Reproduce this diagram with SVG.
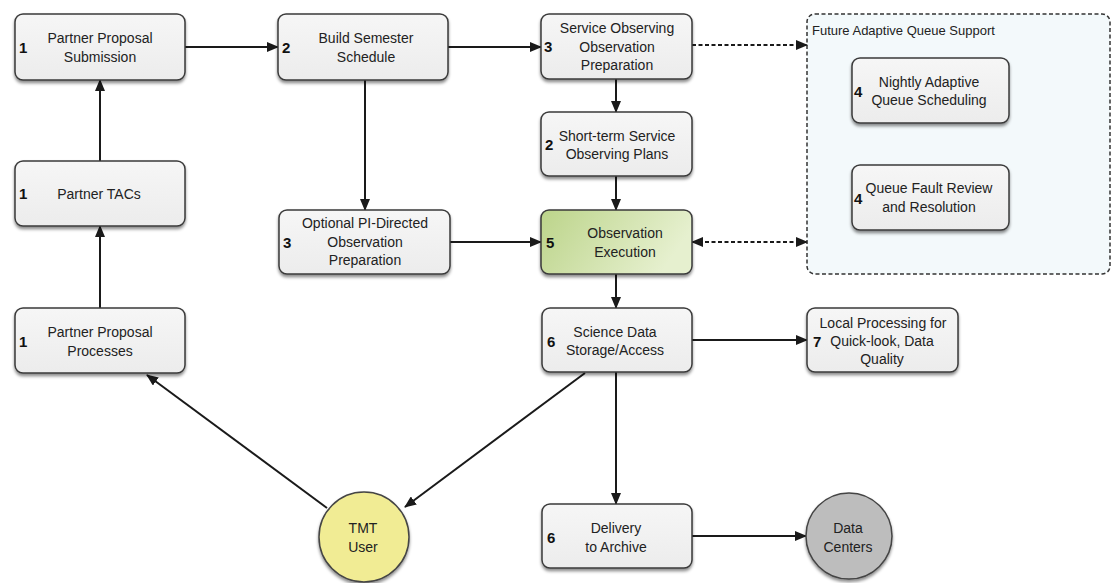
<svg xmlns="http://www.w3.org/2000/svg" width="1112" height="583" viewBox="0 0 1112 583">
<defs>
<linearGradient id="gbox" x1="0" y1="0" x2="0" y2="1"><stop offset="0" stop-color="#f6f6f6"/><stop offset="1" stop-color="#ececec"/></linearGradient>
<linearGradient id="ggreen" x1="0" y1="0" x2="1" y2="0.3"><stop offset="0" stop-color="#bcd48a"/><stop offset="1" stop-color="#e6f0cf"/></linearGradient>
<filter id="sh" x="-10%" y="-10%" width="125%" height="135%"><feDropShadow dx="0" dy="2.5" stdDeviation="1.8" flood-color="#000" flood-opacity="0.45"/></filter>
<marker id="ah" markerWidth="12" markerHeight="10" refX="11" refY="5" orient="auto" markerUnits="userSpaceOnUse"><path d="M0,0 L12,5 L0,10 Z" fill="#1a1a1a"/></marker>
<marker id="ahs" markerWidth="12" markerHeight="10" refX="1" refY="5" orient="auto" markerUnits="userSpaceOnUse"><path d="M12,0 L0,5 L12,10 Z" fill="#1a1a1a"/></marker>
</defs>
<style>
.box{fill:url(#gbox);stroke:#3a3a3a;stroke-width:1.5;filter:url(#sh)}
.green{fill:url(#ggreen)}
.t{font-family:"Liberation Sans",Arial,sans-serif;font-size:14px;fill:#222;text-anchor:middle}
.n{font-family:"Liberation Sans",Arial,sans-serif;font-size:15px;font-weight:bold;fill:#111}
.ttl{font-family:"Liberation Sans",Arial,sans-serif;font-size:13px;fill:#222}
.c{stroke:#1a1a1a;stroke-width:2;fill:none}
.d{stroke-dasharray:4 2.5}
</style>
<g id="future-group">
<rect x="807" y="14" width="303" height="260" rx="8" fill="#f3f9fb" stroke="#333" stroke-width="1.5" stroke-dasharray="4 2.5"/>
<text class="ttl" x="812" y="35">Future Adaptive Queue Support</text>
</g>
<g id="connectors">
<path class="c" d="M185,47 H278" marker-end="url(#ah)"/>
<path class="c" d="M448,47 H541" marker-end="url(#ah)"/>
<path class="c d" d="M692,45 H807" marker-end="url(#ah)"/>
<path class="c" d="M616,79 V112" marker-end="url(#ah)"/>
<path class="c" d="M616,176 V210" marker-end="url(#ah)"/>
<path class="c" d="M365,80 V210" marker-end="url(#ah)"/>
<path class="c" d="M450,242 H541" marker-end="url(#ah)"/>
<path class="c d" d="M692,242 H807" marker-start="url(#ahs)" marker-end="url(#ah)"/>
<path class="c" d="M616,274 V308" marker-end="url(#ah)"/>
<path class="c" d="M692,340 H807" marker-end="url(#ah)"/>
<path class="c" d="M616,372 V504" marker-end="url(#ah)"/>
<path class="c" d="M585,373 L405,507" marker-end="url(#ah)"/>
<path class="c" d="M327,508 L147,375" marker-end="url(#ah)"/>
<path class="c" d="M100,308 V226" marker-end="url(#ah)"/>
<path class="c" d="M100,161 V80" marker-end="url(#ah)"/>
<path class="c" d="M692,536 H806" marker-end="url(#ah)"/>
</g>
<g id="partner-proposal-submission">
<rect class="box" x="15" y="14" width="170" height="66" rx="8"/>
<text class="n" x="19" y="53">1</text>
<text class="t" x="100" y="43">Partner Proposal</text>
<text class="t" x="100" y="62">Submission</text>
</g>
<g id="partner-tacs">
<rect class="box" x="15" y="161" width="170" height="65" rx="8"/>
<text class="n" x="19" y="199">1</text>
<text class="t" x="99" y="199">Partner TACs</text>
</g>
<g id="partner-proposal-processes">
<rect class="box" x="15" y="308" width="170" height="65" rx="8"/>
<text class="n" x="19" y="347">1</text>
<text class="t" x="100" y="337">Partner Proposal</text>
<text class="t" x="100" y="356">Processes</text>
</g>
<g id="build-semester-schedule">
<rect class="box" x="278" y="14" width="170" height="66" rx="8"/>
<text class="n" x="282" y="53">2</text>
<text class="t" x="366" y="43">Build Semester</text>
<text class="t" x="366" y="62">Schedule</text>
</g>
<g id="service-observing-prep">
<rect class="box" x="541" y="14" width="151" height="65" rx="8"/>
<text class="n" x="544" y="52">3</text>
<text class="t" x="617" y="33">Service Observing</text>
<text class="t" x="617" y="52">Observation</text>
<text class="t" x="617" y="70">Preparation</text>
</g>
<g id="short-term-plans">
<rect class="box" x="541" y="112" width="151" height="64" rx="8"/>
<text class="n" x="545" y="150">2</text>
<text class="t" x="617" y="141">Short-term Service</text>
<text class="t" x="617" y="159">Observing Plans</text>
</g>
<g id="optional-pi-directed">
<rect class="box" x="279" y="210" width="171" height="64" rx="8"/>
<text class="n" x="283" y="248">3</text>
<text class="t" x="365" y="228">Optional PI-Directed</text>
<text class="t" x="365" y="247">Observation</text>
<text class="t" x="365" y="265">Preparation</text>
</g>
<g id="observation-execution">
<rect class="box green" x="541" y="210" width="151" height="64" rx="8"/>
<text class="n" x="546" y="248">5</text>
<text class="t" x="625" y="238">Observation</text>
<text class="t" x="625" y="257">Execution</text>
</g>
<g id="nightly-adaptive">
<rect class="box" x="852" y="58" width="157" height="65" rx="8"/>
<text class="n" x="854" y="97">4</text>
<text class="t" x="929" y="87">Nightly Adaptive</text>
<text class="t" x="929" y="105">Queue Scheduling</text>
</g>
<g id="queue-fault-review">
<rect class="box" x="852" y="165" width="157" height="65" rx="8"/>
<text class="n" x="854" y="204">4</text>
<text class="t" x="929" y="193">Queue Fault Review</text>
<text class="t" x="929" y="212">and Resolution</text>
</g>
<g id="science-data-storage">
<rect class="box" x="542" y="308" width="150" height="64" rx="8"/>
<text class="n" x="547" y="347">6</text>
<text class="t" x="615" y="337">Science Data</text>
<text class="t" x="615" y="355">Storage/Access</text>
</g>
<g id="local-processing">
<rect class="box" x="807" y="308" width="151" height="64" rx="8"/>
<text class="n" x="813" y="347">7</text>
<text class="t" x="883" y="328">Local Processing for</text>
<text class="t" x="882" y="346">Quick-look, Data</text>
<text class="t" x="882" y="364">Quality</text>
</g>
<g id="delivery-to-archive">
<rect class="box" x="542" y="504" width="150" height="64" rx="8"/>
<text class="n" x="547" y="543">6</text>
<text class="t" x="616" y="533">Delivery</text>
<text class="t" x="616" y="552">to Archive</text>
</g>
<g id="tmt-user">
<circle cx="364" cy="537" r="45" fill="#f1ec94" stroke="#444" stroke-width="1.5" filter="url(#sh)"/>
<text class="t" x="363" y="533">TMT</text>
<text class="t" x="363" y="552">User</text>
</g>
<g id="data-centers">
<circle cx="849" cy="536" r="43" fill="#bdbdbd" stroke="#444" stroke-width="1.5" filter="url(#sh)"/>
<text class="t" x="848" y="533">Data</text>
<text class="t" x="848" y="552">Centers</text>
</g>
</svg>
